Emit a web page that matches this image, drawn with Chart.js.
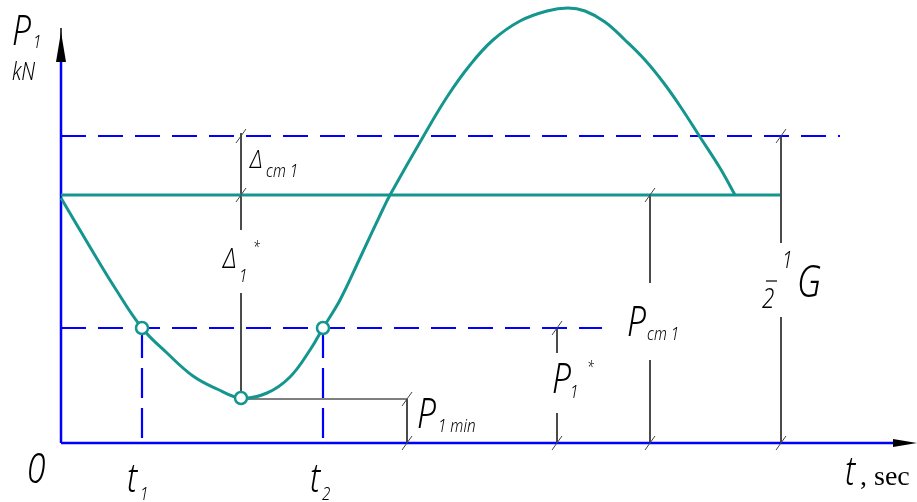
<!DOCTYPE html>
<html>
<head>
<meta charset="utf-8">
<script src="https://cdn.jsdelivr.net/npm/chart.js@4.4.1/dist/chart.umd.min.js"></script>
<style>
  html, body { margin: 0; padding: 0; background: #fff; }
  canvas { display: block; }
</style>
</head>
<body>
<canvas id="chart" width="917" height="502"></canvas>
<script>
// P1(t), origin at the axes corner (arbitrary units)
const curveT = [0, 29, 54, 81, 106, 132, 156, 180, 206, 229, 249, 262, 279, 299, 322, 329, 362, 386, 409, 432, 459, 486, 507, 524, 544, 564, 584, 602, 619, 639, 659, 674];
const curveP = [245, 196, 155, 115, 90, 67, 54, 45, 50, 66, 93, 115, 143, 185, 234, 248, 306, 346, 378, 403, 422, 432, 435, 432, 421, 403, 383, 361, 337, 306, 275, 248];

// levels
const pStatic = 248;   // P_ст1
const pUpper = 307;    // P_ст1 + Δст1
const pStar = 115;     // P1*
const pMin = 44;       // P1min

// special times
const markT = [81, 180, 262];      // t1, minimum, t2
const markP = [115, 45, 115];

// horizontal lines: [from t, to t, level]
const staticLine = [0, 719, pStatic];
const upperDash = [0, 779, pUpper];
const lowerDash = [0, 541, pStar];
const minLine = [180, 346, pMin];

// dimension lines: t, then pairs of P (segments)
const dimDelta = [180, [310, 213], [150, 45]];
const dimPmin = [346, [pMin, 0]];
const dimPstar = [496, [pStar, 90], [30, 0]];
const dimPstat = [589, [pStatic, 160], [83, 0]];
const dimHalfG = [720, [pUpper, 200], [126, 0]];

// tick slashes at dimension ends
const slashT = [180, 180, 346, 346, 496, 496, 589, 589, 720, 720];
const slashP = [pUpper, pStatic, pMin, 0, pStar, 0, pStatic, 0, pUpper, 0];

const tAxisEnd = 832, pAxisEnd = 381;

const teal = '#14968f';
const blue = '#0000ff';
const dimColor = '#333';

function pts(ts, ps) { return ts.map((t, i) => ({ x: t, y: ps[i] })); }
function hline(a) { return [{ x: a[0], y: a[2] }, { x: a[1], y: a[2] }]; }
function dimSets(d) {
  return d.slice(1).map(s => ({
    data: [{ x: d[0], y: s[0] }, { x: d[0], y: s[1] }],
    borderColor: dimColor, borderWidth: 1, pointRadius: 0, showLine: true
  }));
}

const datasets = [
  { data: pts(markT, markP), showLine: false, pointRadius: 6, borderWidth: 2.5,
    pointBackgroundColor: '#fff', pointBorderColor: teal, pointBorderWidth: 2.5 },
  { data: pts(curveT, curveP), showLine: true, borderColor: teal, borderWidth: 3,
    pointRadius: 0, tension: 0.4 },
  { data: hline(staticLine), showLine: true, borderColor: teal, borderWidth: 3, pointRadius: 0 },
  { data: hline(upperDash), showLine: true, borderColor: blue, borderWidth: 2.2, borderDash: [25, 12], pointRadius: 0 },
  { data: hline(lowerDash), showLine: true, borderColor: blue, borderWidth: 2.2, borderDash: [25, 12], pointRadius: 0 },
  { data: [{ x: markT[0], y: pStar }, { x: markT[0], y: 0 }], showLine: true, borderColor: blue, borderWidth: 2.2, borderDash: [30, 10], pointRadius: 0 },
  { data: [{ x: markT[2], y: pStar }, { x: markT[2], y: 0 }], showLine: true, borderColor: blue, borderWidth: 2.2, borderDash: [30, 10], pointRadius: 0 },
  { data: hline(minLine), showLine: true, borderColor: '#000', borderWidth: 1, pointRadius: 0 },
  ...dimSets(dimDelta), ...dimSets(dimPmin), ...dimSets(dimPstar), ...dimSets(dimPstat), ...dimSets(dimHalfG),
  { data: [{ x: 0, y: 0 }, { x: tAxisEnd, y: 0 }], showLine: true, borderColor: blue, borderWidth: 2.5, pointRadius: 0 },
  { data: [{ x: 0, y: 0 }, { x: 0, y: pAxisEnd }], showLine: true, borderColor: blue, borderWidth: 2.5, pointRadius: 0 }
];

// [text, t, P, size, serif]
const labels = [
  ['P', -49, 398, 42], ['1', -28, 395, 19], ['kN', -49, 363, 25],
  ['0', -34, -40, 42],
  ['t', 66, -49, 40], ['1', 79, -57, 19],
  ['t', 249, -49, 40], ['2', 261, -57, 19],
  ['t', 784, -42, 40], [', sec', 799, -42, 28, true],
  ['Δ', 189, 275, 26], ['ст 1', 205, 266, 19],
  ['Δ', 162, 175, 28], ['1', 178, 161, 19], ['*', 192, 190, 16],
  ['P', 356, 15, 42], ['1 min', 377, 11, 19],
  ['P', 491, 50, 42], ['1', 509, 45, 19], ['*', 526, 70, 16],
  ['P', 566, 107, 42], ['ст 1', 586, 103, 19],
  ['1', 721, 175, 24], ['2', 701, 135, 28], ['G', 736, 146, 44]
];

const drawingPlugin = {
  id: 'drawing',
  afterDatasetsDraw(chart) {
    const ctx = chart.ctx;
    const xs = chart.scales.x, ys = chart.scales.y;
    const X = v => xs.getPixelForValue(v), Y = v => ys.getPixelForValue(v);
    ctx.save();
    // slashes
    ctx.strokeStyle = '#444';
    ctx.lineWidth = 1;
    slashT.forEach((t, i) => {
      ctx.beginPath();
      ctx.moveTo(X(t) - 5, Y(slashP[i]) + 7);
      ctx.lineTo(X(t) + 5, Y(slashP[i]) - 7);
      ctx.stroke();
    });
    // arrows
    ctx.fillStyle = '#000';
    ctx.strokeStyle = '#000';
    ctx.lineWidth = 1.5;
    ctx.beginPath();
    ctx.moveTo(X(0), Y(pAxisEnd)); ctx.lineTo(X(0), Y(pAxisEnd + 34)); ctx.stroke();
    ctx.beginPath();
    ctx.moveTo(X(0), Y(pAxisEnd + 30));
    ctx.lineTo(X(0) - 5, Y(pAxisEnd));
    ctx.lineTo(X(0) + 5, Y(pAxisEnd));
    ctx.closePath(); ctx.fill();
    ctx.beginPath();
    ctx.moveTo(X(tAxisEnd + 24), Y(0));
    ctx.lineTo(X(tAxisEnd), Y(0) - 4);
    ctx.lineTo(X(tAxisEnd), Y(0) + 4);
    ctx.closePath(); ctx.fill();
    // fraction bar for 1/2
    ctx.lineWidth = 1.2;
    ctx.beginPath();
    ctx.moveTo(X(705), Y(162)); ctx.lineTo(X(716), Y(162)); ctx.stroke();
    // texts
    labels.forEach(l => {
      ctx.save();
      ctx.translate(X(l[1]), Y(l[2]));
      if (l[4]) {
        ctx.font = l[3] + 'px "Liberation Serif", serif';
      } else {
        ctx.scale(0.8, 1);
        ctx.font = 'italic 300 ' + l[3] + 'px "Noto Sans", "Liberation Sans", sans-serif';
      }
      ctx.fillStyle = '#000';
      ctx.textBaseline = 'alphabetic';
      ctx.fillText(l[0], 0, 0);
      ctx.restore();
    });
    ctx.restore();
  }
};

new Chart(document.getElementById('chart'), {
  type: 'scatter',
  data: { datasets },
  options: {
    responsive: false,
    animation: false,
    layout: { padding: 0, autoPadding: false },
    plugins: { legend: { display: false }, tooltip: { enabled: false } },
    scales: {
      x: { type: 'linear', min: -61, max: 856, display: false },
      y: { type: 'linear', min: -59, max: 443, display: false }
    }
  },
  plugins: [drawingPlugin]
});
</script>
</body>
</html>
